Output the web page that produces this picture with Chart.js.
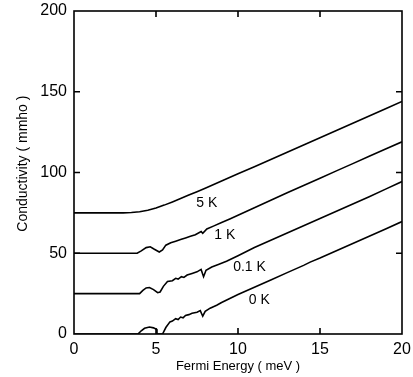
<!DOCTYPE html>
<html>
<head>
<meta charset="utf-8">
<script src="https://cdn.jsdelivr.net/npm/chart.js@4/dist/chart.umd.min.js"></script>
<style>
  html, body { margin: 0; padding: 0; background: #fff; }
  canvas { display: block; }
</style>
</head>
<body>
<canvas id="chart" width="413" height="377"></canvas>
<script>
// --- data (Fermi energy in meV, conductivity in mmho) ---
const energy5K = [0, 1, 2, 3, 3.5, 4, 4.5, 5, 5.5, 6, 6.5, 7, 7.5, 8, 9, 10, 11, 12, 13, 14, 15, 16, 17, 18, 19, 20];
const cond5K   = [75, 75, 75, 75, 75.2, 75.7, 76.6, 78, 79.8, 81.8, 83.9, 86, 88.1, 90.3, 94.7, 99.2, 103.6, 108, 112.5, 117, 121.5, 126, 130.5, 135, 139.5, 144];

const energy1K = [0, 3.85, 4.1, 4.4, 4.65, 4.9, 5.2, 5.4, 5.6, 5.9, 6.2, 6.5, 6.8, 7.1, 7.4, 7.75, 7.85, 8.1, 8.5, 9, 9.5, 10, 11, 12, 13, 14, 15, 16, 17, 18, 19, 20];
const cond1K   = [50, 50, 51.5, 53.5, 54, 52.5, 50.8, 52, 55, 56.5, 57.5, 58.5, 59.5, 60.5, 61.5, 63.5, 62.3, 65, 66.8, 69, 71.2, 73.5, 78.2, 82.8, 87.5, 92, 96.5, 101, 105.5, 110, 114.5, 119];

const energy01K = [0, 4.0, 4.2, 4.4, 4.6, 4.85, 5.1, 5.25, 5.45, 5.7, 6.0, 6.2, 6.35, 6.55, 6.7, 6.9, 7.2, 7.5, 7.75, 7.9, 8.05, 8.4, 8.8, 9.3, 10, 11, 12, 13, 14, 15, 16, 17, 18, 19, 20];
const cond01K   = [25, 25, 27, 28.5, 28.8, 27.5, 25.6, 26, 29.5, 32.5, 33, 34.5, 34, 35.5, 35, 36.5, 37.5, 38.5, 40, 35.5, 39.5, 41.5, 43, 45, 48.5, 53.5, 58, 62.5, 67, 71.5, 76, 80.5, 85, 89.7, 94.4];

const energy0K = [0, 3.9, 4.1, 4.3, 4.6, 4.85, 5.05, 5.06, 5.4, 5.6, 5.85, 6.0, 6.2, 6.35, 6.5, 6.65, 6.8, 7.0, 7.2, 7.5, 7.7, 7.85, 8.0, 8.3, 8.7, 9.0, 9.5, 10, 11, 12, 13, 14, 14.4, 15, 16, 17, 18, 19, 20];
const cond0K   = [0, 0, 2, 3.5, 4.3, 3.8, 2.8, 0, 0, 4, 7.5, 8, 9.5, 9, 10.5, 10, 11.5, 12, 12.8, 13.5, 14.5, 11, 14, 16, 17.8, 19.5, 22, 24.5, 29, 33.5, 38, 42.5, 44.5, 47, 51.5, 56, 60.5, 65, 69.6];

const curveNames = ['5 K', '1 K', '0.1 K', '0 K'];
const xTicks = [0, 5, 10, 15, 20];
const yTicks = [0, 50, 100, 150, 200];
const yTitle = 'Conductivity ( mmho )';

const FONT = '"Liberation Sans", Arial, Helvetica, sans-serif';

function toPoints(xs, ys) {
    return xs.map((x, i) => ({ x: x, y: ys[i] }));
}

// frame, inward tick marks, y title and curve labels
const framePlugin = {
    id: 'frame',
    afterDraw(chart, args, opts) {
        const ctx = chart.ctx;
        const area = chart.chartArea;
        const xs = chart.scales.x;
        const ys = chart.scales.y;
        ctx.save();
        ctx.strokeStyle = '#000';
        ctx.lineWidth = 1.6;
        ctx.strokeRect(area.left, area.top, area.right - area.left, area.bottom - area.top);

        const len = 6;
        ctx.beginPath();
        xTicks.slice(1, -1).forEach(v => {
            const px = xs.getPixelForValue(v);
            ctx.moveTo(px, area.bottom); ctx.lineTo(px, area.bottom - len);
            ctx.moveTo(px, area.top); ctx.lineTo(px, area.top + len);
        });
        yTicks.slice(1, -1).forEach(v => {
            const py = ys.getPixelForValue(v);
            ctx.moveTo(area.left, py); ctx.lineTo(area.left + len, py);
            ctx.moveTo(area.right, py); ctx.lineTo(area.right - len, py);
        });
        ctx.stroke();

        ctx.fillStyle = '#000';
        ctx.textAlign = 'center';
        ctx.textBaseline = 'middle';

        // y axis title, a bit above the axis middle as in the figure
        ctx.save();
        ctx.font = '14px ' + FONT;
        ctx.translate(23, ys.getPixelForValue(105.5));
        ctx.rotate(-Math.PI / 2);
        ctx.fillText(yTitle, 0, 0);
        ctx.restore();

        ctx.font = '14px ' + FONT;
        opts.labels.forEach((lab, i) => {
            ctx.fillText(curveNames[i], xs.getPixelForValue(lab[0]), ys.getPixelForValue(lab[1]));
        });
        ctx.restore();
    }
};

const lineStyle = {
    borderColor: '#000',
    borderWidth: 1.6,
    pointRadius: 0,
    fill: false,
    tension: 0
};

new Chart(document.getElementById('chart'), {
    type: 'line',
    data: {
        datasets: [
            { ...lineStyle, label: curveNames[0], data: toPoints(energy5K, cond5K) },
            { ...lineStyle, label: curveNames[1], data: toPoints(energy1K, cond1K) },
            { ...lineStyle, label: curveNames[2], data: toPoints(energy01K, cond01K) },
            { ...lineStyle, label: curveNames[3], data: toPoints(energy0K, cond0K) }
        ]
    },
    options: {
        responsive: false,
        animation: false,
        devicePixelRatio: 1,
        layout: { padding: { top: 11, right: 11, left: 0, bottom: 0 } },
        plugins: {
            legend: { display: false },
            tooltip: { enabled: false },
            frame: {
                labels: [[8.1, 81], [9.2, 61], [10.7, 41.5], [11.3, 21]]
            }
        },
        scales: {
            x: {
                type: 'linear',
                min: 0, max: 20,
                afterBuildTicks: s => { s.ticks = xTicks.map(v => ({ value: v })); },
                afterFit: s => { s.height = 43; s.paddingLeft = 0; s.paddingRight = 0; },
                grid: { display: false, drawTicks: false },
                border: { display: false },
                ticks: { color: '#000', padding: 6, font: { family: FONT, size: 16 } },
                title: {
                    display: true, text: 'Fermi Energy ( meV )', color: '#000',
                    font: { family: FONT, size: 13 }, padding: { top: 0, bottom: 3 }
                }
            },
            y: {
                type: 'linear',
                min: 0, max: 200,
                afterBuildTicks: s => { s.ticks = yTicks.map(v => ({ value: v })); },
                afterFit: s => { s.width = 74; s.paddingTop = 0; s.paddingBottom = 0; },
                grid: { display: false, drawTicks: false },
                border: { display: false },
                ticks: { color: '#000', padding: 7, font: { family: FONT, size: 16 } },
                title: { display: false }
            }
        }
    },
    plugins: [framePlugin]
});
</script>
</body>
</html>
